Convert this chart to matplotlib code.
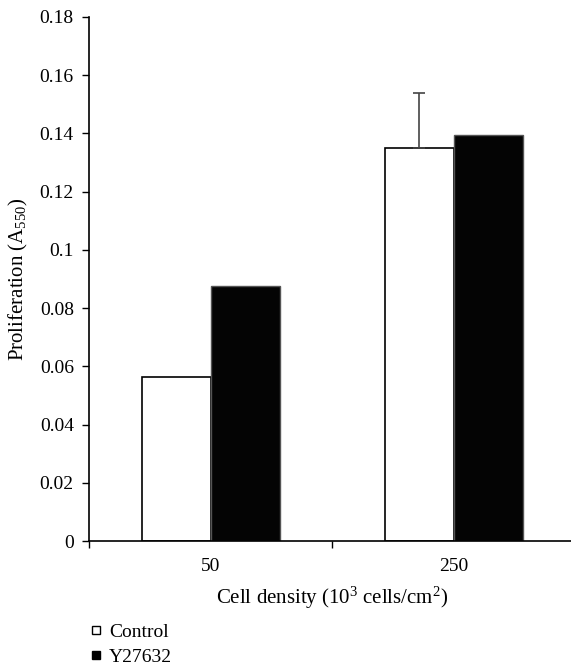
import matplotlib
matplotlib.use("Agg")
import matplotlib.pyplot as plt
from matplotlib.lines import Line2D
import numpy as np

plt.rcParams['font.family'] = ['Liberation Serif', 'DejaVu Serif']
plt.rcParams['mathtext.fontset'] = 'custom'
plt.rcParams['mathtext.rm'] = 'Liberation Serif'
plt.rcParams['mathtext.it'] = 'Liberation Serif:italic'

categories = ["50", "250"]
control = [0.0565, 0.1348]
control_err = [0.0, 0.0189]
y27632 = [0.0876, 0.1393]
yticks = [0, 0.02, 0.04, 0.06, 0.08, 0.1, 0.12, 0.14, 0.16, 0.18]
ytick_labels = ["0", "0.02", "0.04", "0.06", "0.08", "0.1", "0.12", "0.14", "0.16", "0.18"]

fig = plt.figure(figsize=(5.71, 6.69), dpi=100)
ax = fig.add_axes([0.156, 0.191, 0.851, 0.784])

x = np.arange(len(categories))
w = 0.284

ax.bar(x - w/2, control, w, color="white", edgecolor="black", linewidth=1.2)
ax.bar(x + w/2, y27632, w, color="#040404", edgecolor="#555555", linewidth=1.0)

# upper-only error bar on control
for xi, v, e in zip(x, control, control_err):
    if e > 0:
        ax.errorbar(xi - w/2, v, yerr=[[0], [e]], fmt="none", ecolor="#444444",
                    elinewidth=1.2, capsize=4, capthick=1.2)

ax.set_xlim(-0.5, 1.5)
ax.set_ylim(0, 0.18)
ax.set_yticks(yticks)
ax.set_yticklabels(ytick_labels)

ax.set_xticks([-0.5, 0.5, 1.5])
ax.set_xticklabels([])
ax.set_xticks(x, minor=True)
ax.set_xticklabels(categories, minor=True)
ax.tick_params(axis="x", which="minor", length=0, pad=12, labelsize=14)
ax.tick_params(axis="x", which="major", length=5, direction="out", width=1)
ax.tick_params(axis="y", length=5, width=1, labelsize=14, pad=6)

for s in ["top", "right"]:
    ax.spines[s].set_visible(False)
ax.spines["left"].set_linewidth(1.2)
ax.spines["bottom"].set_linewidth(1.2)

ax.set_xlabel("Cell density (10$^3$ cells/cm$^2$)", fontsize=15, labelpad=7)
ax.set_ylabel("Proliferation (A$_{550}$)", fontsize=15, labelpad=7)

handles = [
    Line2D([], [], marker="s", linestyle="none", markersize=5.5,
           markerfacecolor="white", markeredgecolor="black", markeredgewidth=1),
    Line2D([], [], marker="s", linestyle="none", markersize=5.5,
           markerfacecolor="black", markeredgecolor="black"),
]
fig.legend(handles, ["Control", "Y27632"], loc="upper left",
           bbox_to_anchor=(0.142, 0.083), frameon=False, fontsize=14,
           handlelength=0.5, handletextpad=0.45, labelspacing=0.38, borderpad=0)

fig.savefig("out.png", dpi=100)
